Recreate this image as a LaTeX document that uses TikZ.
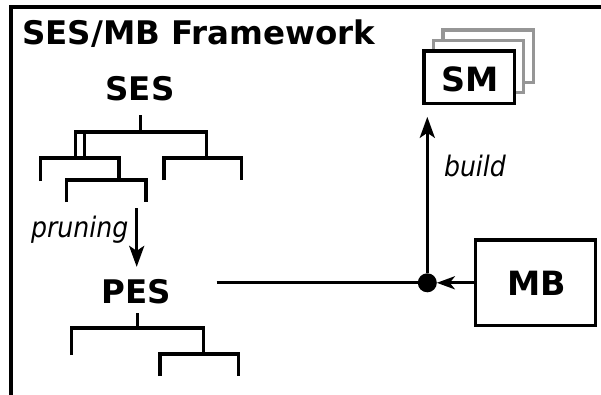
\documentclass[tikz,border=0pt]{standalone}
\usepackage{graphicx}
\usepackage{fontspec}
\setmainfont{DejaVu Sans}
\usetikzlibrary{arrows.meta}
\definecolor{shadowgray}{RGB}{150,150,150}
% italic verbs are set slightly taller than the face
\newcommand{\tallverb}[1]{\scalebox{1}[1.12]{#1}}
\begin{document}
\begin{tikzpicture}[x=1pt,y=-1pt,
  every node/.style={inner sep=0pt, outer sep=0pt},
  heading/.style={font=\fontsize{32.5}{38}\selectfont\bfseries, anchor=base west},
  esname/.style={font=\fontsize{32.5}{38}\selectfont\bfseries, anchor=base},
  boxname/.style={font=\fontsize{33.4}{38}\selectfont\bfseries, anchor=base},
  verb/.style={font=\fontsize{25.2}{30}\selectfont\itshape, anchor=base west},
  tree/.style={line width=3.3pt},
  wire/.style={line width=3.3pt},
  arr/.style={wire, -{Stealth[length=21pt,width=15pt,inset=5pt]}},
  smallarr/.style={wire, -{Stealth[length=18pt,width=13pt,inset=5pt]}},
  box/.style={draw, line width=3.3pt, fill=white},
  smbox/.style={box, minimum width=90.4pt, minimum height=52.4pt},
  junction/.style={circle, fill=black, minimum size=19pt}
]
\useasboundingbox (0,0) rectangle (601,394);
\clip (0,0) rectangle (601,394);

% outer frame (runs past the right and bottom edges)
\draw[line width=3.3pt] (11,420) -- (11,7) -- (640,7);

\node[heading] (title) at (22.3,44.3) {SES/MB Framework};

% SES and its tree
\node[esname] (ses) at (140,100) {SES};
\draw[tree] (140.7,115) -- (140.7,132);
\draw[tree] (75.7,158) -- (75.7,132) -- (206.7,132) -- (206.7,158);
\draw[tree] (84.3,132) -- (84.3,158);
\draw[tree] (40.7,181) -- (40.7,158) -- (119,158) -- (119,180);
\draw[tree] (66.7,202) -- (66.7,180) -- (146,180) -- (146,202);
\draw[tree] (164,180) -- (164,158) -- (241.7,158) -- (241.7,180);

% PES and its tree
\node[esname] (pes) at (136,303) {PES};
\draw[tree] (137.3,313) -- (137.3,328);
\draw[tree] (71.7,355) -- (71.7,328) -- (203.3,328) -- (203.3,354);
\draw[tree] (160,376) -- (160,354) -- (238.3,354) -- (238.3,376);

% pruning step
\coordinate (prunestart) at (136.7,208);
\draw[arr, shorten >=12pt] (prunestart) -- (prunestart |- pes.north);
\node[verb] (pruning) at (31,237) {\tallverb{pruning}};

% stacked SM boxes
\node[smbox, draw=shadowgray] (sm3) at (488.1,56.1) {};
\node[smbox, draw=shadowgray] (sm2) at (478.6,66.6) {};
\node[smbox] (sm) at (469.1,77.1) {};
\node[boxname] (smtext) at (470,91) {SM};

% MB box and junction
\node[box, minimum width=120pt, minimum height=85.7pt] (mb) at (535.7,282.8) {};
\node[boxname] (mbtext) at (536.5,295) {MB};
\node[junction] (dot) at (427.3,282.8) {};
\coordinate (pesout) at (216.7,282.8);

\draw[wire] (pesout) -- (dot);
\draw[smallarr] (mb) -- (dot);
\draw[arr, shorten >=13.5pt] (dot) -- (dot |- sm.south);
\node[verb] (build) at (444,176) {\tallverb{build}};
\end{tikzpicture}
\end{document}
